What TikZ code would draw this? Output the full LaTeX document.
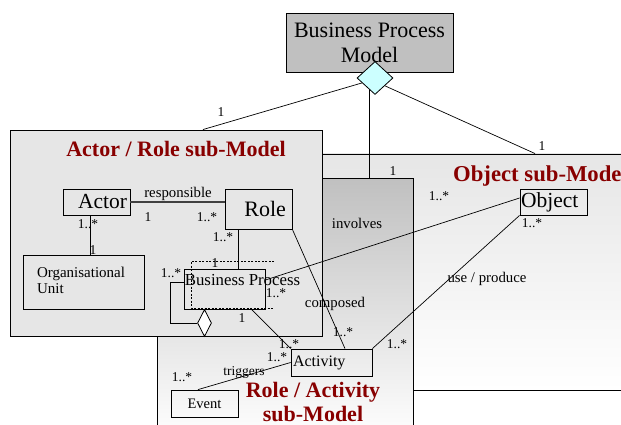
\documentclass[tikz,border=0pt]{standalone}
\usepackage{fontspec}
\setmainfont{Liberation Serif}
\usetikzlibrary{shapes.geometric,calc}
\definecolor{titlered}{HTML}{880000}
\definecolor{bpmgray}{HTML}{C0C0C0}
\definecolor{actorgray}{HTML}{E6E6E6}
\definecolor{diacyan}{HTML}{CCFFFF}
\begin{document}
\begin{tikzpicture}[x=1pt,y=-1pt,
  bigbox/.style={draw, line width=0.9pt, inner sep=0pt},
  cls/.style={draw, line width=0.8pt, inner sep=0pt},
  conn/.style={line width=0.7pt},
  lbl/.style={font=\fontsize{13.5}{14}\selectfont, inner sep=0pt},
  asc/.style={font=\fontsize{14.8}{16}\selectfont, inner sep=0pt},
  modeltitle/.style={font=\bfseries\fontsize{22}{24}\selectfont, text=titlered, inner sep=0pt},
  dashpat/.style={line width=0.6pt, dash pattern=on 2pt off 1.5pt}]
\useasboundingbox (0,0) rectangle (621,425);
\clip (0,0) rectangle (621,425);

% sub-model containers
\node[bigbox, top color=actorgray, bottom color=white, minimum width=493, minimum height=236] (objM) at (403.5,272) {};
\node[bigbox, top color=bpmgray, bottom color=white, minimum width=256, minimum height=262] (roleM) at (285,309) {};
\node[bigbox, fill=actorgray, minimum width=312, minimum height=206] (actorM) at (166,233) {};

% top model
\node[bigbox, fill=bpmgray, minimum width=167, minimum height=59, align=center,
      font=\fontsize{22}{25}\selectfont] (bpm) at (369.5,42.5) {Business Process\\Model};
\coordinate (dc) at (372,80);
\draw[conn] (dc) -- (actorM.north -| 203,0);
\draw[conn] (dc -| 369,0) -- (roleM.north -| 369,0);
\draw[conn] (dc) -- (objM.north -| 535,0);
\node[draw, line width=0.8pt, diamond, fill=diacyan, minimum width=36, minimum height=33, inner sep=0pt] (dia) at (375,78) {};
\node[lbl] (m1) at (221,112) {1};
\node[lbl] (m2) at (542,146) {1};
\node[lbl] (m3) at (393,171) {1};

% titles
\node[modeltitle] (tA) at (176,149) {Actor / Role sub-Model};
\node[modeltitle, anchor=west, font=\bfseries\fontsize{22.7}{24}\selectfont] (tO) at (453,176) {Object sub-Model};
\node[modeltitle, align=center] (tR) at (313,402) {Role / Activity\\sub-Model};

% classes
\node[cls, minimum width=67, minimum height=26, text width=61, inner xsep=3pt, align=right,
      font=\fontsize{21.5}{22}\selectfont] (actor) at (96.5,202) {Actor};
\node[cls, minimum width=67, minimum height=40, text width=55, inner xsep=6pt, align=right,
      font=\fontsize{22}{22}\selectfont] (role) at (258.5,209) {\raisebox{-3pt}{Role}};
\node[cls, minimum width=67, minimum height=26, text width=65, inner xsep=1pt, align=left,
      font=\fontsize{21.5}{22}\selectfont] (object) at (553.5,202) {Object};
\node[cls, minimum width=121, minimum height=54, text width=93, inner xsep=14pt, align=left,
      font=\fontsize{15}{16}\selectfont] (org) at (83.5,282) {Organisational\\Unit\vphantom{g}};
\node[cls, minimum width=81, minimum height=40] (bp) at (224.5,289) {};
\node[inner sep=0pt, font=\fontsize{16.8}{17}\selectfont] (bptext) at (242.5,280) {Business Process};
\draw[dashpat] (274,261) -| (191,308) -- (274,308);
\node[cls, minimum width=81, minimum height=27, text width=77, inner xsep=2pt, align=left,
      font=\fontsize{16}{17}\selectfont] (activity) at (331.5,362.5) {Activity};
\node[cls, minimum width=67, minimum height=27, font=\fontsize{14.5}{15}\selectfont] (event) at (204.5,403.5) {Event};

% connectors
\draw[line width=1.2pt, black!75] (actor.east) -- (actor.east -| role.west);
\draw[conn] (actor.south -| 90,0) -- (org.north -| 90,0);
\draw[conn] (role.south -| 238,0) -- (bp.north -| 238,0);
\node[draw, line width=0.8pt, diamond, fill=white, minimum width=14, minimum height=27, inner sep=0pt] (bpdia) at (204.5,323) {};
\draw[conn] (bpdia.west) -| ($(bp.west)+(-13,-7)$) -- ($(bp.west)+(0,-7)$);
\draw[conn] ($(bp.south west)+(68,0)$) -- (activity.north west);
\draw[conn] (role.south east) -- (activity.north -| 345,0);
\draw[conn] (bp.east |- 0,280) -- (object.west |- 0,198);
\draw[conn] (activity.north east) -- (object.south west);
\draw[conn] (activity.west) -- (event.north -| 198,0);

% association labels
\node[asc] (lresp) at (178,194) {responsible};
\node[asc] (linv) at (357,223) {involves};
\node[asc] (lcomp) at (335,304) {composed};
\node[asc] (luse) at (487,279) {use / produce};
\node[lbl] (ltrig) at (244,372) {triggers};

% multiplicities
\node[lbl] (a1) at (148,217) {1};
\node[lbl] (a2) at (207,217) {1..*};
\node[lbl] (a3) at (88,224) {1..*};
\node[lbl] (a4) at (93,250) {1};
\node[lbl] (a5) at (223,237) {1..*};
\node[lbl] (a6) at (215,263) {1};
\node[lbl] (a7) at (171,273) {1..*};
\node[lbl] (a8) at (242,318) {1};
\node[lbl] (a9) at (276,293) {1..*};
\node[lbl] (a10) at (289,344) {1..*};
\node[lbl] (a11) at (277,357) {1..*};
\node[lbl] (a12) at (182,377) {1..*};
\node[lbl] (a13) at (439,196) {1..*};
\node[lbl] (a14) at (343,332) {1..*};
\node[lbl] (a15) at (532,223) {1..*};
\node[lbl] (a16) at (397,344) {1..*};
\end{tikzpicture}
\end{document}
